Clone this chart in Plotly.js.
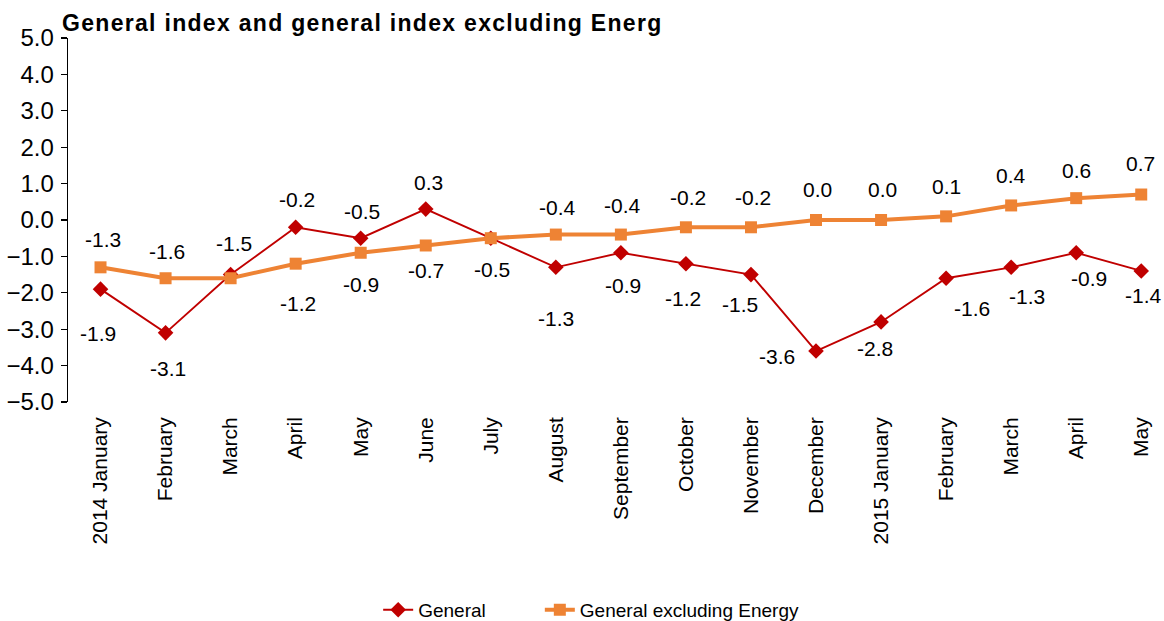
<!DOCTYPE html>
<html>
<head>
<meta charset="utf-8">
<script src="https://cdn.plot.ly/plotly-3.0.1.min.js"></script>
<style>
html,body{margin:0;padding:0;background:#fff;}
#chart{width:1164px;height:621px;}
#chart .gtitle{letter-spacing:1.3px;}
</style>
</head>
<body>
<div id="chart"></div>
<script>
// ---- data ----
const months = ["2014 January","February","March","April","May","June","July","August","September","October","November","December","2015 January","February","March","April","May"];
const general = [-1.9,-3.1,-1.5,-0.2,-0.5,0.3,-0.5,-1.3,-0.9,-1.2,-1.5,-3.6,-2.8,-1.6,-1.3,-0.9,-1.4];
const generalExEnergy = [-1.3,-1.6,-1.6,-1.2,-0.9,-0.7,-0.5,-0.4,-0.4,-0.2,-0.2,0.0,0.0,0.1,0.4,0.6,0.7];
const seriesNames = ["General","General excluding Energy"];
const chartTitle = "General index and general index excluding Energ";

// ---- label placement (pixel offsets, style only) ----
const genLabelDx = [-3,2,3,1,1,3,1,0,2,-3,-11,-39,-6,26,16,13,2];
const genLabelDy = [44,36,-31,-28,-27,-27,31,51,33,35,30,5,27,30,29,26,25];
const exLabelDx  = [2,1,0,2,0,0,0,2,2,2,2,1,1,0,0,0,-1];
const exLabelDy  = [-28,-27,null,40,32,25,null,-27,-29,-30,-30,-31,-31,-30,-30,-28,-31];

const xs = months.map((_, i) => i);
const red = "#C00000", orange = "#EE8334";
const fontFam = "Liberation Sans, Arial, sans-serif";

const traces = [
  {x: xs, y: general, name: seriesNames[0], type: "scatter", mode: "lines+markers", legend: "legend",
   line: {color: red, width: 1.9}, marker: {symbol: "diamond", size: 12, color: red}},
  {x: xs, y: generalExEnergy, name: seriesNames[1], type: "scatter", mode: "lines+markers", legend: "legend2",
   line: {color: orange, width: 4}, marker: {symbol: "square", size: 12, color: orange}}
];

const annotations = [];
general.forEach((v, i) => {
  annotations.push({x: i, y: v, xref: "x", yref: "y", text: v.toFixed(1), showarrow: false,
    xshift: genLabelDx[i], yshift: -genLabelDy[i], font: {family: fontFam, size: 21, color: "#000"}});
});
generalExEnergy.forEach((v, i) => {
  if (exLabelDy[i] === null) return;
  annotations.push({x: i, y: v, xref: "x", yref: "y", text: v.toFixed(1), showarrow: false,
    xshift: exLabelDx[i], yshift: -exLabelDy[i], font: {family: fontFam, size: 21, color: "#000"}});
});

const xRange = [-0.5, 16.35];
const bounds = months.map((_, i) => i - 0.5).concat([months.length - 0.5]);
const legendFont = {family: fontFam, size: 19, color: "#000"};

const layout = {
  width: 1164, height: 621,
  paper_bgcolor: "#fff", plot_bgcolor: "#fff",
  margin: {l: 68, r: 0, t: 38, b: 219, autoexpand: false},
  font: {family: fontFam, color: "#000"},
  title: {text: chartTitle, xref: "container", yref: "container", x: 62/1164, xanchor: "left",
          y: 1 - 23/621, yanchor: "middle", font: {family: fontFam, size: 23, color: "#000", weight: "bold"}},
  showlegend: true,
  legend: {orientation: "h", x: 0.283, xanchor: "left", y: -0.519, yanchor: "top",
           font: legendFont, bgcolor: "rgba(0,0,0,0)"},
  legend2: {orientation: "h", x: 0.4305, xanchor: "left", y: -0.519, yanchor: "top",
           font: legendFont, bgcolor: "rgba(0,0,0,0)"},
  xaxis: {range: xRange, tickvals: xs, ticktext: months, tickangle: -90, showgrid: false, zeroline: false,
          showline: false, ticks: "", ticklabelstandoff: 10, tickfont: {family: fontFam, size: 21, color: "#000"},
          fixedrange: true},
  xaxis2: {overlaying: "x", anchor: "free", position: 0.5, range: xRange, tickvals: bounds,
           showticklabels: false, ticks: "outside", ticklen: 5, tickcolor: "#000", tickwidth: 1.3,
           showline: true, linecolor: "#000", linewidth: 1.3, showgrid: false, zeroline: false},
  yaxis: {range: [-5, 5], dtick: 1, tick0: 0, tickformat: ".1f", showgrid: false, zeroline: false,
          showline: true, linecolor: "#000", linewidth: 1.3, ticks: "outside", ticklen: 6, tickcolor: "#000",
          tickwidth: 1.3, tickfont: {family: fontFam, size: 24, color: "#000"}, ticklabelstandoff: 2},
  annotations: annotations
};

Plotly.newPlot("chart", traces, layout, {staticPlot: true, displayModeBar: false});
</script>
</body>
</html>
